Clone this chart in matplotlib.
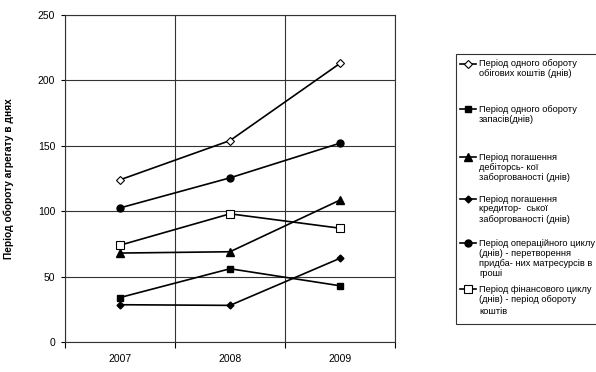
import matplotlib
matplotlib.use("Agg")
import matplotlib.pyplot as plt
from matplotlib.lines import Line2D
from matplotlib.patches import Rectangle

plt.rcParams['font.family'] = ['Liberation Sans', 'DejaVu Sans']

years = ["2007", "2008", "2009"]
obig = [124, 154, 213]
zapasy = [34, 56, 43]
debit = [68, 69, 108.5]
kredyt = [28.5, 28, 64]
oper = [102.5, 125.5, 152]
finans = [74, 98, 87]

labels = [
    ["Період одного обороту", "обігових коштів (днів)"],
    ["Період одного обороту", "запасів(днів)"],
    ["Період погашення", "дебіторсь- кої", "заборгованості (днів)"],
    ["Період погашення", "кредитор-  ської", "заборгованості (днів)"],
    ["Період операційного циклу", "(днів) - перетворення", "придба- них матресурсів в", "гроші"],
    ["Період фінансового циклу", "(днів) - період обороту", "коштів"],
]

styles = [
    dict(marker='D', markersize=4, markerfacecolor='white', markeredgecolor='black', markeredgewidth=0.8),
    dict(marker='s', markersize=5, markerfacecolor='black', markeredgecolor='black'),
    dict(marker='^', markersize=6, markerfacecolor='black', markeredgecolor='black'),
    dict(marker='D', markersize=3.5, markerfacecolor='black', markeredgecolor='black'),
    dict(marker='o', markersize=5, markerfacecolor='black', markeredgecolor='black'),
    dict(marker='s', markersize=5.5, markerfacecolor='white', markeredgecolor='black', markeredgewidth=0.8),
]
series = [obig, zapasy, debit, kredyt, oper, finans]

W, H = 596, 372
fig = plt.figure(figsize=(W / 100, H / 100), dpi=100)
ax = fig.add_axes([65 / W, 1 - 342 / H, (395 - 65) / W, (342 - 15) / H])

x = list(range(len(years)))
for vals, st in zip(series, styles):
    ax.plot(x, vals, color='black', linewidth=1.2, **st, zorder=3)

ax.set_xlim(-0.5, len(years) - 0.5)
ax.set_ylim(0, 250)
ax.set_yticks([0, 50, 100, 150, 200, 250])
ax.set_xticks(x)
ax.set_xticklabels(years)
ax.set_xticks([-0.5, 0.5, 1.5, 2.5], minor=True)
ax.tick_params(axis='x', which='major', length=0, pad=9, labelsize=7.5)
ax.tick_params(axis='x', which='minor', length=4, width=0.8, direction='out')
ax.tick_params(axis='y', length=3, width=0.8, direction='out', pad=4, labelsize=7.5)
ax.grid(True, axis='y', color='#333333', linewidth=0.8)
ax.grid(True, axis='x', which='minor', color='#333333', linewidth=0.8)
for s in ax.spines.values():
    s.set_color('#333333')
    s.set_linewidth(0.8)
ax.set_ylabel("Період обороту агрегату в днях", fontsize=7.3, fontweight='bold')
ax.yaxis.set_label_coords(-51 / 330, 0.5)

# legend box
fig.patches.append(Rectangle((456 / W, 1 - 324 / H), 150 / W, (324 - 54) / H,
                             transform=fig.transFigure, facecolor='white',
                             edgecolor='#333333', linewidth=0.8, zorder=1))
entry_y = [[64, 74], [109, 120], [157, 167, 178], [199, 209, 219],
           [243, 253, 263, 273], [289, 300, 311]]
for lines, ys, st in zip(labels, entry_y, styles):
    y0 = 1 - ys[0] / H
    fig.add_artist(Line2D([460 / W, 476 / W], [y0, y0], transform=fig.transFigure,
                          color='black', linewidth=1.2, zorder=2))
    fig.add_artist(Line2D([468 / W], [y0], transform=fig.transFigure, color='black',
                          linestyle='none', zorder=3, **st))
    for t, yy in zip(lines, ys):
        fig.text(479 / W, 1 - yy / H, t, fontsize=6.7, va='center', ha='left', zorder=3)

fig.savefig("out.png", dpi=100)
